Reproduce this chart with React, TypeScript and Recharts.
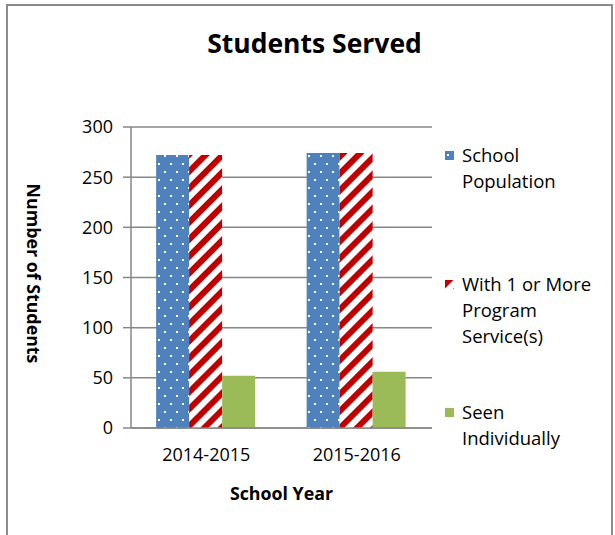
import { Bar, BarChart, CartesianGrid, XAxis, YAxis } from "recharts";

const years = ["2014-2015", "2015-2016"];
const schoolPopulation = [272, 274];
const withServices = [272, 274];
const seenIndividually = [52, 56];
const yTicks = [0, 50, 100, 150, 200, 250, 300];

const series = [
  { key: "pop", label: ["School", "Population"], fill: "url(#dots)", values: schoolPopulation },
  { key: "svc", label: ["With 1 or More", "Program", "Service(s)"], fill: "url(#stripes)", values: withServices },
  { key: "seen", label: ["Seen", "Individually"], fill: "#9bbb59", values: seenIndividually },
];

const data = years.map((year, i) => {
  const row: Record<string, string | number> = { year };
  for (const s of series) row[s.key] = s.values[i];
  return row;
});

const FONT = "'Open Sans', sans-serif";
const GRID = "#878787";

function Patterns() {
  return (
    <svg width={0} height={0} style={{ position: "absolute" }}>
      <defs>
        <pattern id="dots" width={12} height={16} patternUnits="userSpaceOnUse">
          <rect width={12} height={16} fill="#4f81bd" />
          <rect x={2} y={3} width={2} height={2} fill="#fff" />
          <rect x={8} y={11} width={2} height={2} fill="#fff" />
        </pattern>
        <pattern id="stripes" width={12} height={12} patternUnits="userSpaceOnUse" patternTransform="rotate(45)">
          <rect width={12} height={12} fill="#fff" />
          <rect width={6} height={12} fill="#c00000" />
        </pattern>
      </defs>
    </svg>
  );
}

function Legend() {
  return (
    <div style={{ position: "absolute", left: 445, top: 142, fontFamily: FONT, fontSize: 18.5, lineHeight: "26px", color: "#000" }}>
      {series.map((s) => (
        <div key={s.key} style={{ height: 128.5, position: "relative" }}>
          <svg width={9} height={9} style={{ position: "absolute", left: 0, top: 9 }}>
            <rect width={9} height={9} fill={s.fill} />
          </svg>
          <div style={{ marginLeft: 17, whiteSpace: "nowrap" }}>
            {s.label.map((l) => (
              <div key={l}>{l}</div>
            ))}
          </div>
        </div>
      ))}
    </div>
  );
}

export default function App() {
  return (
    <div style={{ position: "absolute", left: 0, top: 0, width: 615, height: 535, background: "#fff", overflow: "hidden" }}>
      <Patterns />
      <div style={{ position: "absolute", left: 6, top: 4, width: 607, height: 540, border: "2px solid #8c8c8c", borderBottom: "none", boxSizing: "border-box" }} />
      <div style={{ position: "absolute", left: 0, top: 25, width: 629, textAlign: "center", fontFamily: FONT, fontWeight: 700, fontSize: 26.5, color: "#000" }}>
        Students Served
      </div>
      <div style={{ position: "absolute", left: 0, top: 0 }}>
        <BarChart
          width={615}
          height={535}
          data={data}
          margin={{ top: 127, right: 183, bottom: 27, left: 21 }}
          barCategoryGap="16.7%"
          barGap={0}
        >
          <CartesianGrid vertical={false} stroke={GRID} strokeWidth={1.5} />
          <XAxis
            dataKey="year"
            height={80}
            tickSize={0}
            tickMargin={20}
            stroke={GRID}
            strokeWidth={1.5}
            tick={{ fill: "#000", fontSize: 18, fontFamily: FONT }}
            label={{ value: "School Year", position: "insideBottom", offset: 8, fill: "#000", fontSize: 17.8, fontWeight: 700, fontFamily: FONT }}
          />
          <YAxis
            width={110}
            domain={[0, 300]}
            ticks={yTicks}
            tickSize={8}
            tickMargin={10}
            stroke={GRID}
            strokeWidth={1.5}
            tick={{ fill: "#000", fontSize: 18, fontFamily: FONT }}
            label={{ value: "Number of Students", angle: 90, position: "insideLeft", offset: 12, dy: -4, fill: "#000", fontSize: 17.8, fontWeight: 700, fontFamily: FONT, style: { textAnchor: "middle" } }}
          />
          {series.map((s) => (
            <Bar key={s.key} dataKey={s.key} fill={s.fill} isAnimationActive={false} />
          ))}
        </BarChart>
      </div>
      <Legend />
    </div>
  );
}
